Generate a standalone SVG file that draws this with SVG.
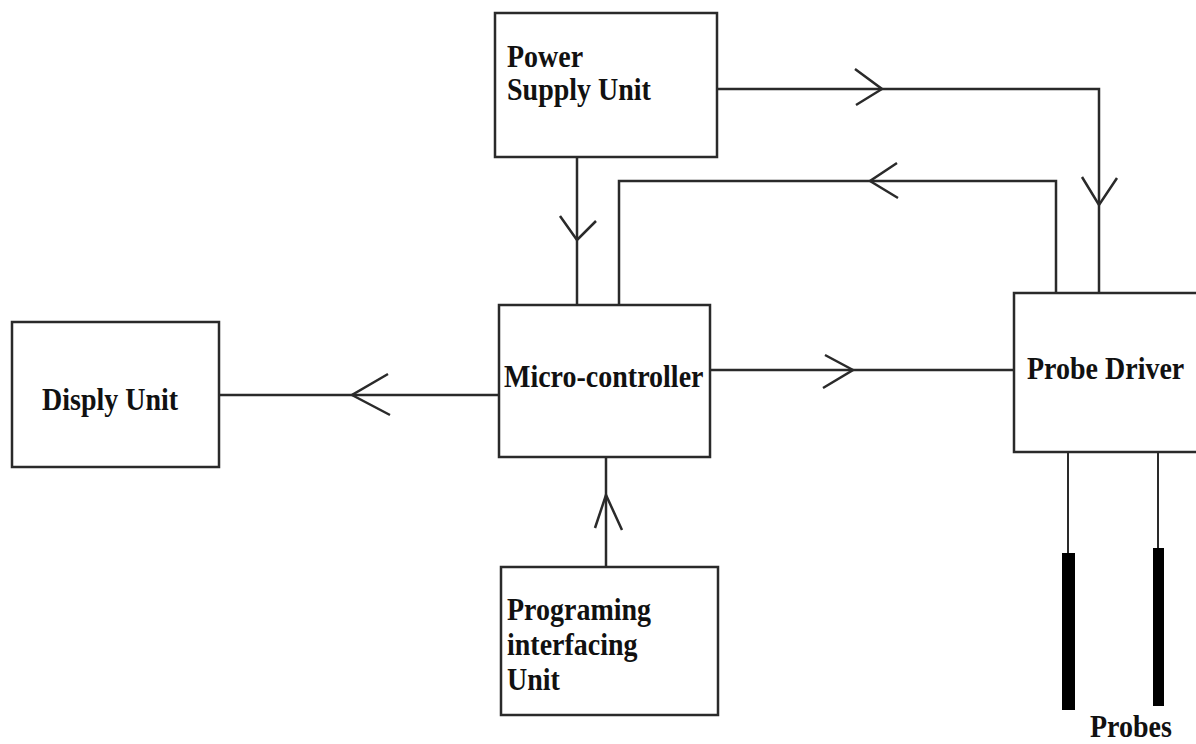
<svg xmlns="http://www.w3.org/2000/svg" width="1196" height="744" viewBox="0 0 1196 744">
<style>
.box{fill:#fff;stroke:#2a2a2a;stroke-width:2.5}
.ln{fill:none;stroke:#2a2a2a;stroke-width:2.5}
.ah{fill:none;stroke:#2a2a2a;stroke-width:2.5;stroke-linejoin:miter}
.t{font-family:"Liberation Serif","Times New Roman",serif;font-weight:bold;font-size:28px;fill:#111}
.probe{fill:#000}
</style>
<rect width="1196" height="744" fill="#fff"/>
<g id="connectors">
  <path class="ln" d="M577,157 V305"/>
  <path class="ah" d="M560,216 L577,240 L596,221"/>
  <path class="ln" d="M717,89 H1099 V293"/>
  <path class="ah" d="M855,69 L882,89 L856,105"/>
  <path class="ah" d="M1082,177 L1099,205 L1117,178"/>
  <path class="ln" d="M1056,293 V181 H619 V305"/>
  <path class="ah" d="M897,163 L870,181 L898,198"/>
  <path class="ln" d="M710,370 H1014"/>
  <path class="ah" d="M825,355 L853,370 L823,388"/>
  <path class="ln" d="M499,395 H219"/>
  <path class="ah" d="M388,374 L352,395 L390,415"/>
  <path class="ln" d="M606,567 V457"/>
  <path class="ah" d="M595,528 L606,495 L622,530"/>
  <path class="ln" d="M1068,452 V553" style="stroke-width:2"/>
  <path class="ln" d="M1158,452 V548" style="stroke-width:2"/>
</g>
<g id="power-supply">
  <rect class="box" x="495" y="13" width="222" height="144"/>
  <text class="t" transform="translate(507,67) scale(1,1.12)">Power</text>
  <text class="t" transform="translate(507,100) scale(1,1.12)">Supply Unit</text>
</g>
<g id="micro-controller">
  <rect class="box" x="499" y="305" width="211" height="152"/>
  <text class="t" transform="translate(504,387) scale(1,1.12)">Micro-controller</text>
</g>
<g id="display-unit">
  <rect class="box" x="12" y="322" width="207" height="145"/>
  <text class="t" transform="translate(42,410) scale(1,1.12)">Disply Unit</text>
</g>
<g id="probe-driver">
  <rect class="box" x="1014" y="293" width="200" height="159"/>
  <text class="t" transform="translate(1027,379) scale(1,1.12)">Probe Driver</text>
</g>
<g id="programming-unit">
  <rect class="box" x="501" y="567" width="217" height="148"/>
  <text class="t" transform="translate(507,620) scale(1,1.12)">Programing</text>
  <text class="t" transform="translate(507,655) scale(1,1.12)">interfacing</text>
  <text class="t" transform="translate(507,690) scale(1,1.12)">Unit</text>
</g>
<g id="probes">
  <rect class="probe" x="1062" y="553" width="13" height="157"/>
  <rect class="probe" x="1153" y="548" width="11" height="158"/>
  <text class="t" transform="translate(1090,737) scale(1,1.12)">Probes</text>
</g>
</svg>
